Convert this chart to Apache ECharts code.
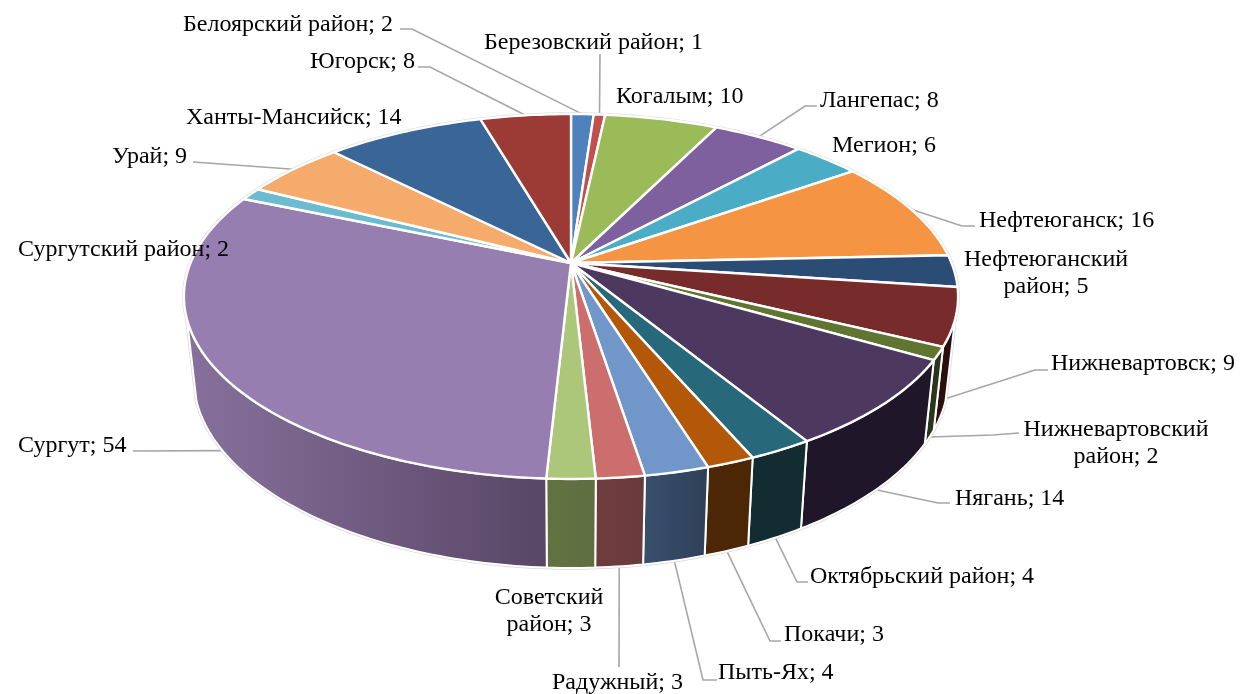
<!DOCTYPE html>
<html>
<head>
<meta charset="utf-8">
<title>Pie</title>
<style>
  html, body { margin: 0; padding: 0; background: #fff; }
  #chart { width: 1242px; height: 694px; }
</style>
<script src="https://cdn.jsdelivr.net/npm/echarts@6/dist/echarts.min.js"></script>
</head>
<body>
<div id="chart"></div>
<script>
  // values, clockwise from 12 o'clock
  const names = ['Белоярский район', 'Березовский район', 'Когалым', 'Лангепас', 'Мегион', 'Нефтеюганск',
    'Нефтеюганский район', 'Нижневартовск', 'Нижневартовский район', 'Нягань', 'Октябрьский район', 'Покачи',
    'Пыть-Ях', 'Радужный', 'Советский район', 'Сургут', 'Сургутский район', 'Урай', 'Ханты-Мансийск', 'Югорск']
  const values = [2, 1, 10, 8, 6, 16, 5, 9, 2, 14, 4, 3, 4, 3, 3, 54, 2, 9, 14, 8]

  const topColors = ['#4f81bd', '#c0504d', '#9bbb59', '#7f609f', '#4bacc6', '#f59443',
    '#2b4c74', '#772b2a', '#5f7530', '#4d395f', '#27687b', '#b35708',
    '#7096ca', '#cc6e6e', '#adc77a', '#977eb0', '#6bbbd1', '#f5ab6b', '#3a6697', '#9c3a36']
  // side wall colours, left to right (only the front slices show a wall)
  const wallColors = {
    6: ['#1a2e46', '#1a2e46'],
    7: ['#300f0f', '#2a0d0d'],
    8: ['#2a361a', '#2a361a'],
    9: ['#20162a', '#20162a'],
    10: ['#122c32', '#122c32'],
    11: ['#4d2806', '#4b2706'],
    12: ['#38506d', '#2f4057'],
    13: ['#6e3c3c', '#6a3a3a'],
    14: ['#62723f', '#5e6e42'],
    15: ['#87719c', '#584666']
  }

  // label boxes and leader bends, one per slice
  const labelLayout = [
    {x: 183, y: 25, align: 'left', bend: [[400, 29], [412, 29]]},
    {x: 484, y: 43, align: 'left', bend: [[600, 54]]},
    {x: 616, y: 97, align: 'left'},
    {x: 820, y: 101, align: 'left', bend: [[817, 106], [805, 106]]},
    {x: 832, y: 146, align: 'left'},
    {x: 979, y: 221, align: 'left', bend: [[975, 226], [962, 226]]},
    {x: 1046, y: 273, align: 'center', wrap: true},
    {x: 1051, y: 364, align: 'left', bend: [[1048, 370], [1035, 370]]},
    {x: 1116, y: 443, align: 'center', wrap: true, bend: [[1019, 433], [993, 435]]},
    {x: 955, y: 499, align: 'left', bend: [[950, 503], [938, 503]]},
    {x: 810, y: 577, align: 'left', bend: [[808, 582], [797, 582]]},
    {x: 784, y: 635, align: 'left', bend: [[781, 641], [770, 641]]},
    {x: 718, y: 673, align: 'left', bend: [[717, 680], [703, 680]]},
    {x: 552, y: 683, align: 'left', bend: [[619, 667]]},
    {x: 549, y: 611, align: 'center', wrap: true},
    {x: 18, y: 446, align: 'left', bend: [[133, 451]]},
    {x: 18, y: 250, align: 'left'},
    {x: 112, y: 157, align: 'left', bend: [[193, 162]]},
    {x: 186, y: 118, align: 'left'},
    {x: 310, y: 62, align: 'left', bend: [[418, 67], [430, 67]]}
  ]

  // view of the tilted disc
  const cx = 571
  const cy = 263
  const radius = 380.5
  const tilt = 176.3
  const persp = 0.1836
  const lowerScaleX = 0.975
  const lowerScaleY = 1.044
  const depth = 79.5
  const wallFrom = 107.5
  const wallTo = 252.5

  const total = values.reduce((a, b) => a + b, 0)
  const starts = []
  let running = 0
  values.forEach(v => {
    starts.push(running / total * 360)
    running += v
  })

  function project (deg, lower) {
    const rad = deg * Math.PI / 180
    const sx = Math.sin(rad)
    const sy = -Math.cos(rad)
    const w = 1 - persp * sy
    let px = radius * sx / w
    let py = tilt * sy / w
    if (lower) {
      px = px * lowerScaleX
      py = py * lowerScaleY + depth
    }
    return [cx + px, cy + py]
  }

  function arc (from, to, lower) {
    const pts = []
    const n = Math.max(2, Math.ceil(Math.abs(to - from)))
    for (let i = 0; i <= n; i++) {
      pts.push(project(from + (to - from) * i / n, lower))
    }
    return pts
  }

  function wallPoints (i) {
    const from = Math.max(starts[i], wallFrom)
    const to = Math.min(starts[i] + values[i] / total * 360, wallTo)
    if (to <= from || !wallColors[i]) return null
    return arc(from, to, false).concat(arc(to, from, true))
  }

  function topPoints (i) {
    const from = starts[i]
    return [[cx, cy]].concat(arc(from, from + values[i] / total * 360, false))
  }

  // faint grey rim outside the white slice borders
  function renderRim (params) {
    const i = params.dataIndex
    const rimStyle = {fill: null, stroke: '#d9d9d9', lineWidth: 3.5, lineJoin: 'round'}
    const children = [{type: 'polygon', shape: {points: topPoints(i)}, style: rimStyle}]
    const wall = wallPoints(i)
    if (wall) children.push({type: 'polygon', shape: {points: wall}, style: rimStyle})
    return {type: 'group', children: children}
  }

  function renderWall (params) {
    const i = params.dataIndex
    const pts = wallPoints(i)
    if (!pts) return {type: 'group', children: []}
    return {
      type: 'polygon',
      shape: {points: pts},
      style: {
        fill: new echarts.graphic.LinearGradient(0, 0, 1, 0, [
          {offset: 0, color: wallColors[i][0]},
          {offset: 1, color: wallColors[i][1]}
        ]),
        stroke: '#fff',
        lineWidth: 2,
        lineJoin: 'round'
      }
    }
  }

  function renderTop (params) {
    const i = params.dataIndex
    return {
      type: 'polygon',
      shape: {points: topPoints(i)},
      style: {fill: topColors[i], stroke: '#fff', lineWidth: 2.4, lineJoin: 'round'}
    }
  }

  // leaders sit under the disc and land on its visible edge
  function renderLeader (params) {
    const i = params.dataIndex
    const box = labelLayout[i]
    if (!box.bend) return {type: 'group', children: []}
    const mid = starts[i] + values[i] / total * 180
    const end = project(mid, mid > 90 && mid < 270)
    return {
      type: 'polyline',
      shape: {points: box.bend.concat([end])},
      style: {fill: null, stroke: '#a6a6a6', lineWidth: 1.6}
    }
  }

  function renderLabel (params) {
    const i = params.dataIndex
    const box = labelLayout[i]
    let text = names[i] + '; ' + values[i]
    if (box.wrap) text = text.replace(' ', '\n')
    return {
      type: 'text',
      style: {
        x: box.x,
        y: box.y,
        text: text,
        fill: '#000',
        fontFamily: '"Liberation Serif", serif',
        fontSize: 24,
        lineHeight: 27,
        align: box.align,
        verticalAlign: 'middle'
      }
    }
  }

  function disc (z, renderItem) {
    return {
      type: 'custom',
      coordinateSystem: 'none',
      z: z,
      silent: true,
      data: values,
      renderItem: renderItem
    }
  }

  const chart = echarts.init(document.getElementById('chart'))
  chart.setOption({
    backgroundColor: '#fff',
    animation: false,
    series: [
      disc(1, renderLeader),
      disc(2, renderRim),
      disc(3, renderWall),
      disc(4, renderTop),
      disc(5, renderLabel)
    ]
  })
</script>
</body>
</html>
